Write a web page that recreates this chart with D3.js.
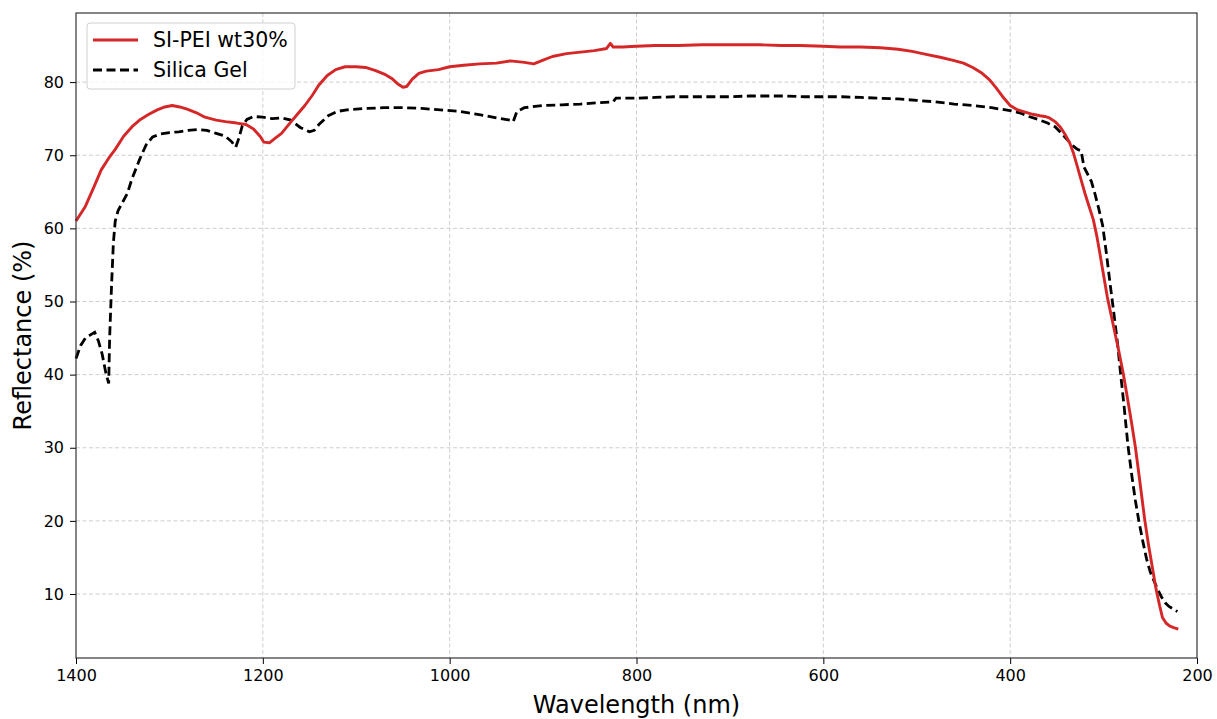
<!DOCTYPE html>
<html>
<head>
<meta charset="utf-8">
<script src="https://cdn.jsdelivr.net/npm/d3@7"></script>
<style>
  body { margin: 0; background: #fff; }
  svg { font-family: "DejaVu Sans", sans-serif; }
</style>
</head>
<body>
<div id="chart"></div>
<script>
// data (wavelength in nm, reflectance in %)
const peiWave = [1400, 1390, 1381, 1373, 1365, 1358, 1349, 1340, 1331, 1322, 1313, 1305, 1297, 1289, 1281, 1271, 1262, 1250, 1240, 1228, 1218, 1210, 1203, 1199, 1193, 1187, 1180, 1171, 1163, 1155, 1147, 1140, 1131, 1122, 1112, 1100, 1090, 1080, 1070, 1062, 1055, 1050, 1046, 1040, 1033, 1025, 1012, 1000, 985, 968, 950, 935, 920, 910, 900, 890, 875, 860, 845, 832, 828, 825, 815, 800, 780, 755, 730, 711, 690, 668, 645, 625, 600, 582, 560, 539, 520, 505, 490, 475, 462, 450, 440, 430, 422, 415, 408,
    400, 392, 384, 376, 368, 363, 358, 352, 346, 341, 336, 332, 328, 324, 320, 316, 311, 307, 304, 300, 296, 292, 288, 284, 279, 275, 270, 266, 262, 259, 256, 252, 248, 244, 240, 237, 233, 229, 225, 220];
const peiRefl = [61.0, 63.0, 65.6, 68.0, 69.6, 70.8, 72.6, 73.9, 74.9, 75.6, 76.2, 76.6, 76.8, 76.6, 76.3, 75.8, 75.2, 74.8, 74.6, 74.4, 74.2, 73.6, 72.6, 71.8, 71.7, 72.3, 73.0, 74.4, 75.6, 76.8, 78.2, 79.6, 80.9, 81.7, 82.1, 82.1, 82.0, 81.6, 81.1, 80.5, 79.7, 79.3, 79.4, 80.4, 81.2, 81.5, 81.7, 82.1, 82.3, 82.5, 82.6, 82.9, 82.7, 82.5, 83.0, 83.5, 83.9, 84.1, 84.3, 84.6, 85.3, 84.8, 84.8, 84.9, 85.0, 85.0, 85.1, 85.1, 85.1, 85.1, 85.0, 85.0, 84.9, 84.8, 84.8, 84.7, 84.5, 84.2, 83.8, 83.4, 83.0, 82.6, 82.0, 81.2, 80.3, 79.2, 78.0,
    76.8, 76.2, 75.9, 75.6, 75.4, 75.3, 75.1, 74.6, 73.8, 72.8, 71.6, 70.2, 68.4, 66.6, 64.8, 63.2, 61.2, 58.8, 56.6, 53.6, 50.6, 48.2, 45.8, 43.4, 40.2, 37.2, 33.4, 30.1, 26.2, 23.2, 20.2, 16.8, 13.8, 10.8, 8.4, 6.8, 6.0, 5.6, 5.4, 5.2];

const silWave = [1400, 1395, 1390, 1385, 1380, 1376, 1372, 1368, 1365, 1364, 1362, 1360, 1358, 1355, 1350, 1345, 1340, 1332, 1325, 1318, 1310, 1300, 1290, 1280, 1270, 1260, 1250, 1240, 1233, 1229, 1226, 1222, 1217, 1210, 1200, 1190, 1180, 1170, 1160, 1150, 1145, 1140, 1130, 1120, 1110, 1100, 1090, 1070, 1050, 1030, 1010, 990, 970, 950, 935, 932, 928, 920, 900, 880, 860, 840, 825, 822, 800, 780, 760, 740, 720, 700, 680, 660, 640, 620, 600, 580, 560, 540, 520, 500, 480, 460, 440, 420,
    400, 390, 380, 370, 360, 352, 345, 338, 332, 328, 324, 321, 317, 313, 309, 305, 301, 297, 293, 289, 285, 282, 278, 274, 270, 266, 262, 258, 254, 250, 246, 242, 238, 234, 230, 226, 221];
const silRefl = [42.2, 44.0, 45.0, 45.4, 45.8, 44.6, 42.8, 40.2, 38.8, 45.0, 52.0, 58.0, 61.0, 62.4, 63.6, 64.8, 66.8, 69.4, 71.4, 72.5, 72.9, 73.1, 73.2, 73.4, 73.5, 73.4, 73.0, 72.6, 71.8, 71.1, 72.2, 74.0, 74.9, 75.3, 75.2, 75.0, 75.1, 74.8, 73.8, 73.2, 73.4, 74.2, 75.4, 76.0, 76.2, 76.3, 76.4, 76.5, 76.5, 76.4, 76.2, 76.0, 75.6, 75.1, 74.8, 74.6, 76.0, 76.5, 76.8, 76.9, 77.0, 77.2, 77.3, 77.8, 77.8, 77.9, 78.0, 78.0, 78.0, 78.0, 78.1, 78.1, 78.1, 78.0, 78.0, 78.0, 77.9, 77.8, 77.7, 77.5, 77.3, 77.0, 76.8, 76.5,
    76.1, 75.8, 75.3, 74.9, 74.4, 73.9, 73.0, 72.0, 71.2, 70.8, 70.6, 68.4, 67.4, 66.4, 64.6, 62.6, 60.4, 56.6, 52.4, 48.4, 44.2, 40.4, 35.6, 30.4, 26.4, 22.8, 19.8, 17.2, 14.8, 13.0, 11.8, 10.6, 9.6, 8.8, 8.3, 8.0, 7.6];

const xTicks = [1400, 1200, 1000, 800, 600, 400, 200];
const yTicks = [10, 20, 30, 40, 50, 60, 70, 80];
const seriesNames = ["SI-PEI wt30%", "Silica Gel"];

const W = 1217, H = 719;
const m = { left: 76, right: 20, top: 13, bottom: 61 };

const svg = d3.select("#chart").append("svg")
    .attr("width", W)
    .attr("height", H);

const x = d3.scaleLinear().domain([1400, 200]).range([m.left, W - m.right]);
const y = d3.scaleLinear().domain([1.25, 89.45]).range([H - m.bottom, m.top]);

// grid
const grid = svg.append("g")
    .attr("stroke", "#c8c8c8")
    .attr("stroke-width", 0.9)
    .attr("stroke-dasharray", "4,2.5");
grid.selectAll(".gx").data(xTicks.slice(1, -1)).enter().append("line")
    .attr("x1", d => x(d)).attr("x2", d => x(d))
    .attr("y1", m.top).attr("y2", H - m.bottom);
grid.selectAll(".gy").data(yTicks).enter().append("line")
    .attr("x1", m.left).attr("x2", W - m.right)
    .attr("y1", d => y(d)).attr("y2", d => y(d));

// lines
const line = d3.line().x(d => x(d[0])).y(d => y(d[1]));

svg.append("path")
    .datum(silWave.map((w, i) => [w, silRefl[i]]))
    .attr("fill", "none")
    .attr("stroke", "#000")
    .attr("stroke-width", 2.8)
    .attr("stroke-dasharray", "9,4.5")
    .attr("d", line);

svg.append("path")
    .datum(peiWave.map((w, i) => [w, peiRefl[i]]))
    .attr("fill", "none")
    .attr("stroke", "#d62728")
    .attr("stroke-width", 2.9)
    .attr("stroke-linejoin", "round")
    .attr("d", line);

// axes
const xAxis = svg.append("g")
    .attr("transform", `translate(0,${H - m.bottom})`)
    .call(d3.axisBottom(x).tickValues(xTicks).tickFormat(d3.format("d")).tickSizeOuter(0).tickSize(6).tickPadding(6));
const yAxis = svg.append("g")
    .attr("transform", `translate(${m.left},0)`)
    .call(d3.axisLeft(y).tickValues(yTicks).tickFormat(d3.format("d")).tickSizeOuter(0).tickSize(6).tickPadding(6));

[xAxis, yAxis].forEach(a => {
    a.selectAll("text").attr("font-size", 16).attr("fill", "#000").attr("font-family", "DejaVu Sans");
    a.selectAll("line").attr("stroke", "#000").attr("stroke-width", 1);
    a.select(".domain").remove();
});

// frame
svg.append("rect")
    .attr("x", m.left).attr("y", m.top)
    .attr("width", W - m.left - m.right).attr("height", H - m.top - m.bottom)
    .attr("fill", "none").attr("stroke", "#222").attr("stroke-width", 1.1);

// axis labels
svg.append("text")
    .attr("x", (m.left + W - m.right) / 2).attr("y", 713)
    .attr("text-anchor", "middle")
    .attr("font-size", 24)
    .text("Wavelength (nm)");
svg.append("text")
    .attr("transform", `translate(31,${(m.top + H - m.bottom) / 2}) rotate(-90)`)
    .attr("text-anchor", "middle")
    .attr("font-size", 24)
    .text("Reflectance (%)");

// legend
const lg = svg.append("g").attr("transform", "translate(87,23)");
lg.append("rect")
    .attr("width", 208).attr("height", 66).attr("rx", 3)
    .attr("fill", "#fff").attr("fill-opacity", 0.8)
    .attr("stroke", "#d0d0d0").attr("stroke-width", 1);
const items = lg.selectAll(".item").data(seriesNames).enter().append("g")
    .attr("transform", (d, i) => `translate(0,${17 + i * 30})`);
items.append("line")
    .attr("x1", 6).attr("x2", 51)
    .attr("stroke", (d, i) => i === 0 ? "#d62728" : "#000")
    .attr("stroke-width", 2.8)
    .attr("stroke-dasharray", (d, i) => i === 0 ? null : "9,4.5");
items.append("text")
    .attr("x", 66).attr("y", 7)
    .attr("font-size", 20.5)
    .text(d => d);
</script>
</body>
</html>
